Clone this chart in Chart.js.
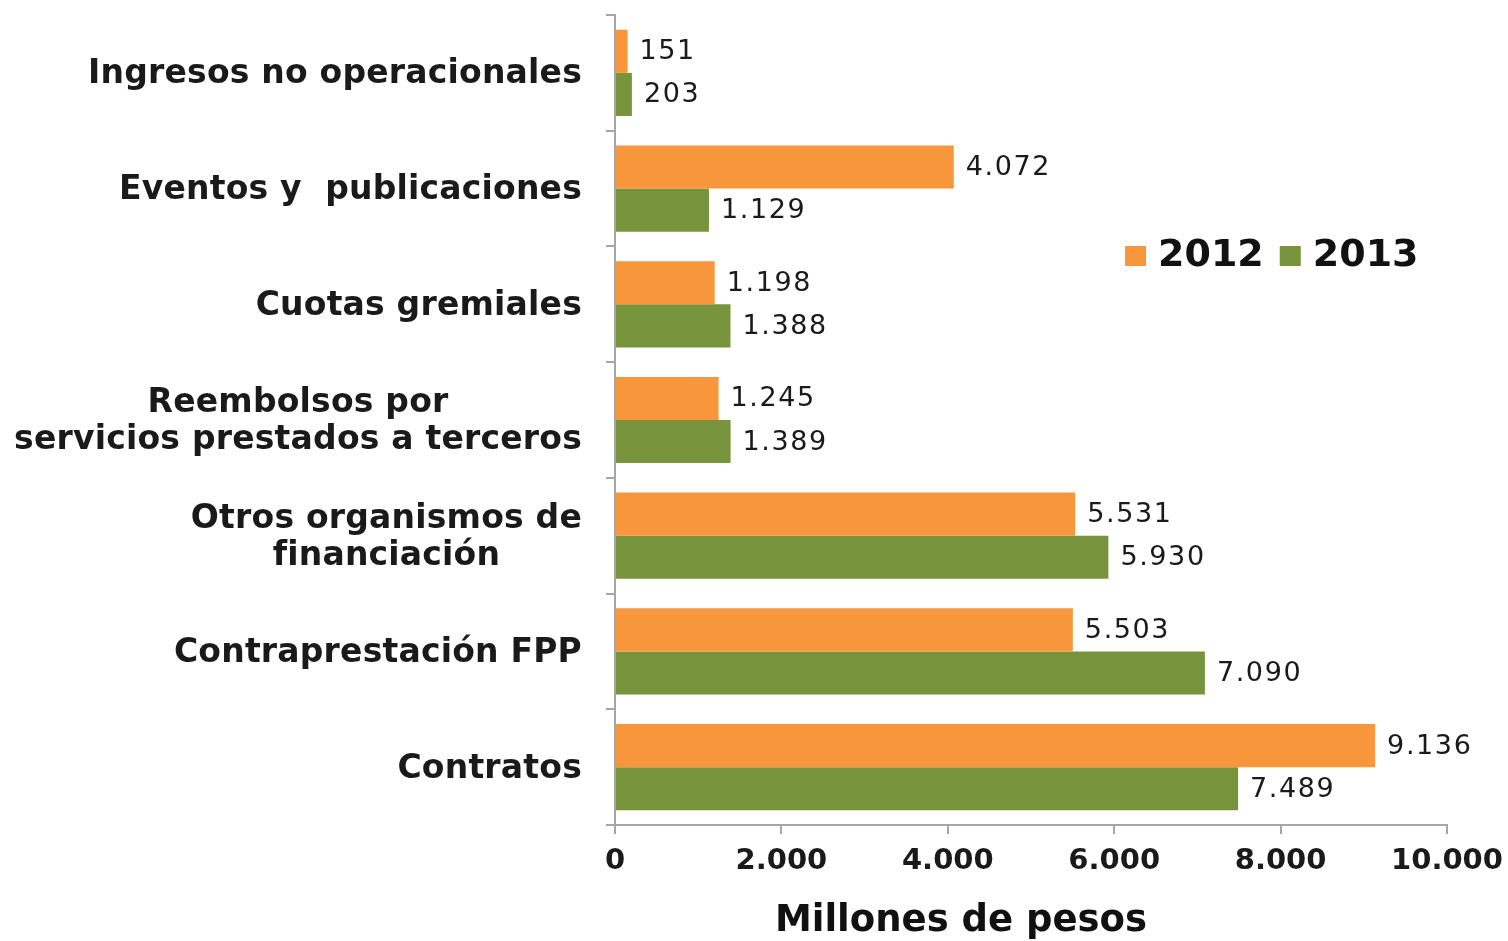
<!DOCTYPE html>
<html>
<head>
<meta charset="utf-8">
<script src="https://cdn.jsdelivr.net/npm/chart.js@4"></script>
<style>
  body { margin: 0; background: #fff; }
  #wrap { width: 1508px; height: 941px; }
</style>
</head>
<body>
<div id="wrap"><canvas id="myChart"></canvas></div>
<script>
// datos
const categorias = [
    'Ingresos no operacionales',
    'Eventos y  publicaciones',
    'Cuotas gremiales',
    ['Reembolsos por', 'servicios prestados a terceros'],
    ['Otros organismos de', 'financiación'],
    'Contraprestación FPP',
    'Contratos'
]
const valores2012 = [151, 4072, 1198, 1245, 5531, 5503, 9136]
const valores2013 = [203, 1129, 1388, 1389, 5930, 7090, 7489]
const ticksX = [0, 2000, 4000, 6000, 8000, 10000]
const tituloX = 'Millones de pesos'

const naranja = '#F7963A'
const verde = '#77933C'
const fuente = "'DejaVu Sans', Verdana, sans-serif"

function miles(v) {
    return String(v).replace(/\B(?=(\d{3})+(?!\d))/g, '.') // separador de miles con punto
}

// etiquetas del eje y, bloques centrados y alineados a la derecha
const etiquetasY = {
    id: 'etiquetasY',
    afterDraw(chart) {
        const ctx = chart.ctx
        const y = chart.scales.y
        ctx.save()
        ctx.font = 'bold 33px ' + fuente
        ctx.letterSpacing = '0.2px'
        ctx.fillStyle = '#1a1a1a'
        ctx.textAlign = 'center'
        ctx.textBaseline = 'middle'
        const derecha = y.right - 33
        categorias.forEach(function (lab, i) {
            const lineas = Array.isArray(lab) ? lab : [lab]
            const ancho = Math.max(...lineas.map(l => ctx.measureText(l).width))
            const cx = derecha - ancho / 2
            const cy = y.getPixelForTick(i) + 2
            const alto = 37
            lineas.forEach(function (l, k) {
                ctx.fillText(l, cx, cy + (k - (lineas.length - 1) / 2) * alto)
            })
        })
        ctx.restore()
    }
}

// valores al final de cada barra
const valoresBarras = {
    id: 'valoresBarras',
    afterDatasetsDraw(chart) {
        const ctx = chart.ctx
        ctx.save()
        ctx.font = '27px ' + fuente
        ctx.letterSpacing = '1.6px'
        ctx.fillStyle = '#1a1a1a'
        ctx.textAlign = 'left'
        ctx.textBaseline = 'middle'
        chart.data.datasets.forEach(function (ds, d) {
            chart.getDatasetMeta(d).data.forEach(function (bar, i) {
                ctx.fillText(miles(ds.data[i]), bar.x + 12, bar.y + 1)
            })
        })
        ctx.restore()
    }
}

// leyenda dentro del area del grafico y titulo del eje x
const leyenda = {
    id: 'leyenda',
    afterDraw(chart) {
        const ctx = chart.ctx
        const area = chart.chartArea
        ctx.save()
        ctx.font = 'bold 38px ' + fuente
        ctx.textBaseline = 'middle'
        ctx.textAlign = 'left'
        let x = area.left + 510
        const y = 256
        chart.data.datasets.forEach(function (ds) {
            ctx.fillStyle = ds.backgroundColor
            ctx.fillRect(x, y - 10, 21, 20)
            x += 33
            ctx.fillStyle = '#111'
            ctx.fillText(ds.label, x, y)
            x += ctx.measureText(ds.label).width + 16
        })

        ctx.font = 'bold 37px ' + fuente
        ctx.textAlign = 'center'
        ctx.fillStyle = '#111'
        ctx.fillText(tituloX, area.left + 346, 921)
        ctx.restore()
    }
}

const ctx = document.getElementById('myChart')
new Chart(ctx, {
    type: 'bar',
    data: {
        labels: categorias,
        datasets: [{
            label: '2012',
            data: valores2012,
            backgroundColor: naranja,
            categoryPercentage: 0.745,
            barPercentage: 1.0
        }, {
            label: '2013',
            data: valores2013,
            backgroundColor: verde,
            categoryPercentage: 0.745,
            barPercentage: 1.0
        }]
    },
    options: {
        indexAxis: 'y',
        responsive: true,
        maintainAspectRatio: false,
        animation: false,
        layout: { padding: { top: 15, right: 61, left: 0, bottom: 0 } },
        plugins: {
            legend: { display: false },
            tooltip: { enabled: false }
        },
        scales: {
            x: {
                min: 0,
                max: 10000,
                afterBuildTicks(scale) {
                    scale.ticks = ticksX.map(v => ({ value: v }))
                },
                afterFit(scale) {
                    scale.height = 116
                    scale.paddingRight = 0 // el ultimo rotulo puede salirse del area
                },
                border: { color: '#a6a6a6', width: 2 },
                grid: { drawOnChartArea: false, tickLength: 9, color: '#a6a6a6', lineWidth: 2 },
                ticks: {
                    color: '#1a1a1a',
                    padding: 10,
                    maxRotation: 0,
                    font: { family: fuente, size: 29, weight: 'bold' },
                    callback: v => miles(v)
                }
            },
            y: {
                afterFit(scale) { scale.width = 615 },
                border: { color: '#a6a6a6', width: 2 },
                grid: { drawOnChartArea: false, tickLength: 9, color: '#a6a6a6', lineWidth: 2, offset: true },
                ticks: { display: false }
            }
        }
    },
    plugins: [etiquetasY, valoresBarras, leyenda]
})
</script>
</body>
</html>
